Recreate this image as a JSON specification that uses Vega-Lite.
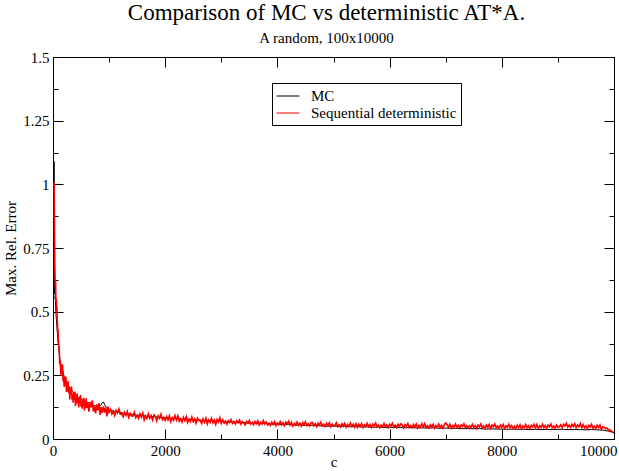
{
  "$schema": "https://vega.github.io/schema/vega-lite/v6.json",
  "width": 561,
  "height": 382,
  "autosize": "none",
  "padding": {"left": 53, "top": 57, "right": 5, "bottom": 32},
  "background": "white",
  "title": {
    "text": "Comparison of MC vs deterministic AT*A.",
    "subtitle": "A random, 100x10000",
    "font": "Liberation Serif",
    "subtitleFont": "Liberation Serif",
    "fontSize": 23,
    "subtitleFontSize": 15,
    "fontWeight": "normal",
    "color": "black",
    "subtitleColor": "black",
    "anchor": "middle",
    "dx": -7,
    "offset": 4,
    "subtitlePadding": 6
  },
  "datasets": {
    "mc": [
      {"c":15,"e":0.8},{"c":18,"e":1.09},{"c":21,"e":1.0},{"c":24,"e":0.85},{"c":27,"e":0.6},{"c":30,"e":0.57},{"c":34,"e":0.6},{"c":38,"e":0.55},{"c":42,"e":0.56},{"c":50,"e":0.5},{"c":60,"e":0.47},{"c":70,"e":0.44},{"c":80,"e":0.41},{"c":90,"e":0.38},{"c":100,"e":0.37},{"c":110,"e":0.34},{"c":120,"e":0.32},{"c":130,"e":0.3},{"c":150,"e":0.28},{"c":170,"e":0.27},{"c":200,"e":0.245},{"c":230,"e":0.23},{"c":260,"e":0.215},{"c":300,"e":0.2},{"c":330,"e":0.19},{"c":360,"e":0.185},{"c":400,"e":0.175},{"c":450,"e":0.165},{"c":500,"e":0.158},{"c":550,"e":0.15},{"c":600,"e":0.145},{"c":650,"e":0.14},{"c":700,"e":0.135},{"c":750,"e":0.13},{"c":800,"e":0.127},{"c":850,"e":0.132},{"c":880,"e":0.143},{"c":900,"e":0.145},{"c":920,"e":0.135},{"c":950,"e":0.125},{"c":1000,"e":0.116},
      {"c":1100,"e":0.108},{"c":1200,"e":0.104},{"c":1300,"e":0.099},{"c":1400,"e":0.097},{"c":1500,"e":0.093},{"c":1600,"e":0.092},{"c":1700,"e":0.088},{"c":1800,"e":0.088},{"c":1900,"e":0.084},{"c":2000,"e":0.084},{"c":2100,"e":0.081},{"c":2200,"e":0.081},{"c":2300,"e":0.078},{"c":2400,"e":0.078},{"c":2500,"e":0.075},{"c":2600,"e":0.075},{"c":2700,"e":0.072},{"c":2800,"e":0.073},{"c":2900,"e":0.07},{"c":3000,"e":0.07},
      {"c":3100,"e":0.067},{"c":3200,"e":0.067},{"c":3300,"e":0.065},{"c":3400,"e":0.065},{"c":3500,"e":0.062},{"c":3600,"e":0.063},{"c":3700,"e":0.06},{"c":3800,"e":0.061},{"c":3900,"e":0.058},{"c":4000,"e":0.059},{"c":4100,"e":0.056},{"c":4200,"e":0.057},{"c":4300,"e":0.055},{"c":4400,"e":0.055},{"c":4500,"e":0.053},{"c":4600,"e":0.054},{"c":4700,"e":0.052},{"c":4800,"e":0.052},{"c":4900,"e":0.05},{"c":5000,"e":0.051},
      {"c":5100,"e":0.049},{"c":5200,"e":0.05},{"c":5300,"e":0.048},{"c":5400,"e":0.049},{"c":5500,"e":0.047},{"c":5600,"e":0.048},{"c":5700,"e":0.046},{"c":5800,"e":0.047},{"c":5900,"e":0.045},{"c":6000,"e":0.046},{"c":6100,"e":0.045},{"c":6200,"e":0.045},{"c":6300,"e":0.044},{"c":6400,"e":0.045},{"c":6500,"e":0.043},{"c":6600,"e":0.044},{"c":6700,"e":0.043},{"c":6800,"e":0.044},{"c":6900,"e":0.042},{"c":7000,"e":0.043},
      {"c":7100,"e":0.042},{"c":7200,"e":0.042},{"c":7300,"e":0.041},{"c":7400,"e":0.041},{"c":7500,"e":0.04},{"c":7600,"e":0.041},{"c":7700,"e":0.039},{"c":7800,"e":0.04},{"c":7900,"e":0.039},{"c":8000,"e":0.039},{"c":8100,"e":0.038},{"c":8200,"e":0.039},{"c":8300,"e":0.038},{"c":8400,"e":0.038},{"c":8500,"e":0.037},{"c":8600,"e":0.038},{"c":8700,"e":0.037},{"c":8800,"e":0.038},{"c":8900,"e":0.037},{"c":9000,"e":0.038},
      {"c":9100,"e":0.038},{"c":9200,"e":0.037},{"c":9300,"e":0.037},{"c":9400,"e":0.037},{"c":9500,"e":0.036},{"c":9600,"e":0.037},{"c":9700,"e":0.036},{"c":9800,"e":0.035},{"c":9900,"e":0.031},{"c":10000,"e":0.025}
    ],
    "det": [
      {"c":20,"e":1.01},{"c":24,"e":0.9},{"c":28,"e":0.78},{"c":32,"e":0.68},{"c":36,"e":0.64},{"c":40,"e":0.6},{"c":45,"e":0.62},{"c":50,"e":0.56},{"c":55,"e":0.54},{"c":60,"e":0.55},{"c":65,"e":0.5},{"c":70,"e":0.52},{"c":75,"e":0.47},{"c":80,"e":0.45},{"c":85,"e":0.42},{"c":90,"e":0.43},{"c":95,"e":0.39},{"c":100,"e":0.38},{"c":105,"e":0.36},
      {"c":110,"e":0.357},{"c":120,"e":0.293},{"c":130,"e":0.308},{"c":140,"e":0.249},{"c":150,"e":0.293},{"c":160,"e":0.257},{"c":170,"e":0.292},{"c":180,"e":0.226},{"c":190,"e":0.246},{"c":200,"e":0.204},
      {"c":210,"e":0.245},{"c":220,"e":0.213},{"c":230,"e":0.244},{"c":240,"e":0.185},{"c":250,"e":0.216},{"c":260,"e":0.187},{"c":270,"e":0.227},{"c":280,"e":0.18},{"c":290,"e":0.199},{"c":300,"e":0.155},
      {"c":310,"e":0.2},{"c":320,"e":0.174},{"c":330,"e":0.207},{"c":340,"e":0.154},{"c":350,"e":0.175},{"c":360,"e":0.143},{"c":370,"e":0.182},{"c":380,"e":0.153},{"c":390,"e":0.186},{"c":400,"e":0.13},
      {"c":410,"e":0.163},{"c":420,"e":0.141},{"c":430,"e":0.179},{"c":440,"e":0.14},{"c":450,"e":0.16},{"c":460,"e":0.124},{"c":470,"e":0.165},{"c":480,"e":0.143},{"c":490,"e":0.173},{"c":500,"e":0.127},
      {"c":510,"e":0.147},{"c":520,"e":0.119},{"c":530,"e":0.156},{"c":540,"e":0.13},{"c":550,"e":0.162},{"c":560,"e":0.112},{"c":570,"e":0.143},{"c":580,"e":0.121},{"c":590,"e":0.16},{"c":600,"e":0.121},
      {"c":620,"e":0.142},{"c":640,"e":0.107},{"c":660,"e":0.146},{"c":680,"e":0.124},{"c":700,"e":0.152},{"c":720,"e":0.108},{"c":740,"e":0.128},{"c":760,"e":0.101},{"c":780,"e":0.136},{"c":800,"e":0.112},{"c":820,"e":0.141},{"c":840,"e":0.095},{"c":860,"e":0.125},{"c":880,"e":0.104},{"c":900,"e":0.128},{"c":920,"e":0.104},{"c":940,"e":0.123},{"c":960,"e":0.089},{"c":980,"e":0.127},{"c":1000,"e":0.105},
      {"c":1025,"e":0.116},{"c":1050,"e":0.098},{"c":1075,"e":0.109},{"c":1100,"e":0.092},{"c":1125,"e":0.112},{"c":1150,"e":0.102},{"c":1175,"e":0.118},{"c":1200,"e":0.097},
      {"c":1225,"e":0.099},{"c":1250,"e":0.087},{"c":1275,"e":0.105},{"c":1300,"e":0.092},{"c":1325,"e":0.108},{"c":1350,"e":0.085},{"c":1375,"e":0.101},{"c":1400,"e":0.091},
      {"c":1425,"e":0.089},{"c":1450,"e":0.105},{"c":1475,"e":0.084},{"c":1500,"e":0.093},{"c":1525,"e":0.081},{"c":1550,"e":0.099},{"c":1575,"e":0.086},{"c":1600,"e":0.102},
      {"c":1625,"e":0.075},{"c":1650,"e":0.091},{"c":1675,"e":0.081},{"c":1700,"e":0.099},{"c":1725,"e":0.081},{"c":1750,"e":0.092},{"c":1775,"e":0.075},{"c":1800,"e":0.095},
      {"c":1825,"e":0.088},{"c":1850,"e":0.071},{"c":1875,"e":0.091},{"c":1900,"e":0.081},{"c":1925,"e":0.097},{"c":1950,"e":0.076},{"c":1975,"e":0.085},{"c":2000,"e":0.073},
      {"c":2025,"e":0.088},{"c":2050,"e":0.075},{"c":2075,"e":0.091},{"c":2100,"e":0.068},{"c":2125,"e":0.084},{"c":2150,"e":0.074},{"c":2175,"e":0.092},{"c":2200,"e":0.074},
      {"c":2225,"e":0.091},{"c":2250,"e":0.07},{"c":2275,"e":0.079},{"c":2300,"e":0.067},{"c":2325,"e":0.085},{"c":2350,"e":0.072},{"c":2375,"e":0.088},{"c":2400,"e":0.065},
      {"c":2425,"e":0.078},{"c":2450,"e":0.068},{"c":2475,"e":0.086},{"c":2500,"e":0.068},{"c":2525,"e":0.079},{"c":2550,"e":0.062},{"c":2575,"e":0.082},{"c":2600,"e":0.072},
      {"c":2625,"e":0.073},{"c":2650,"e":0.061},{"c":2675,"e":0.079},{"c":2700,"e":0.066},{"c":2725,"e":0.082},{"c":2750,"e":0.059},{"c":2775,"e":0.075},{"c":2800,"e":0.065},
      {"c":2825,"e":0.081},{"c":2850,"e":0.063},{"c":2875,"e":0.074},{"c":2900,"e":0.057},{"c":2925,"e":0.077},{"c":2950,"e":0.067},{"c":2975,"e":0.083},{"c":3000,"e":0.062},
      {"c":3025,"e":0.075},{"c":3050,"e":0.062},{"c":3075,"e":0.07},{"c":3100,"e":0.058},{"c":3125,"e":0.072},{"c":3150,"e":0.065},{"c":3175,"e":0.076},{"c":3200,"e":0.061},{"c":3225,"e":0.068},{"c":3250,"e":0.059},{"c":3275,"e":0.072},{"c":3300,"e":0.063},{"c":3325,"e":0.074},{"c":3350,"e":0.058},{"c":3375,"e":0.069},{"c":3400,"e":0.062},
      {"c":3425,"e":0.055},{"c":3450,"e":0.069},{"c":3475,"e":0.062},{"c":3500,"e":0.073},{"c":3525,"e":0.058},{"c":3550,"e":0.065},{"c":3575,"e":0.056},{"c":3600,"e":0.069},{"c":3625,"e":0.06},{"c":3650,"e":0.071},{"c":3675,"e":0.055},{"c":3700,"e":0.066},{"c":3725,"e":0.059},{"c":3750,"e":0.072},{"c":3775,"e":0.059},{"c":3800,"e":0.067},
      {"c":3825,"e":0.055},{"c":3850,"e":0.062},{"c":3875,"e":0.053},{"c":3900,"e":0.066},{"c":3925,"e":0.057},{"c":3950,"e":0.068},{"c":3975,"e":0.052},{"c":4000,"e":0.063},{"c":4025,"e":0.056},{"c":4050,"e":0.069},{"c":4075,"e":0.056},{"c":4100,"e":0.064},{"c":4125,"e":0.052},{"c":4150,"e":0.066},{"c":4175,"e":0.059},{"c":4200,"e":0.07},
      {"c":4225,"e":0.055},{"c":4250,"e":0.066},{"c":4275,"e":0.05},{"c":4300,"e":0.061},{"c":4325,"e":0.054},{"c":4350,"e":0.067},{"c":4375,"e":0.054},{"c":4400,"e":0.062},{"c":4425,"e":0.05},{"c":4450,"e":0.064},{"c":4475,"e":0.057},{"c":4500,"e":0.068},{"c":4525,"e":0.053},{"c":4550,"e":0.06},{"c":4575,"e":0.051},{"c":4600,"e":0.064},
      {"c":4625,"e":0.065},{"c":4650,"e":0.052},{"c":4675,"e":0.06},{"c":4700,"e":0.048},{"c":4725,"e":0.062},{"c":4750,"e":0.055},{"c":4775,"e":0.066},{"c":4800,"e":0.051},{"c":4825,"e":0.058},{"c":4850,"e":0.049},{"c":4875,"e":0.062},{"c":4900,"e":0.053},{"c":4925,"e":0.064},{"c":4950,"e":0.048},{"c":4975,"e":0.059},{"c":5000,"e":0.052},
      {"c":5025,"e":0.053},{"c":5050,"e":0.064},{"c":5075,"e":0.049},{"c":5100,"e":0.056},{"c":5125,"e":0.047},{"c":5150,"e":0.06},{"c":5175,"e":0.051},{"c":5200,"e":0.062},{"c":5225,"e":0.046},{"c":5250,"e":0.057},{"c":5275,"e":0.05},{"c":5300,"e":0.063},{"c":5325,"e":0.05},{"c":5350,"e":0.058},{"c":5375,"e":0.046},{"c":5400,"e":0.06},
      {"c":5425,"e":0.046},{"c":5450,"e":0.059},{"c":5475,"e":0.05},{"c":5500,"e":0.061},{"c":5525,"e":0.045},{"c":5550,"e":0.056},{"c":5575,"e":0.049},{"c":5600,"e":0.062},{"c":5625,"e":0.049},{"c":5650,"e":0.057},{"c":5675,"e":0.045},{"c":5700,"e":0.059},{"c":5725,"e":0.052},{"c":5750,"e":0.063},{"c":5775,"e":0.048},{"c":5800,"e":0.055},
      {"c":5825,"e":0.044},{"c":5850,"e":0.055},{"c":5875,"e":0.048},{"c":5900,"e":0.061},{"c":5925,"e":0.048},{"c":5950,"e":0.056},{"c":5975,"e":0.044},{"c":6000,"e":0.058},{"c":6025,"e":0.051},{"c":6050,"e":0.062},{"c":6075,"e":0.047},{"c":6100,"e":0.054},{"c":6125,"e":0.045},{"c":6150,"e":0.058},{"c":6175,"e":0.049},{"c":6200,"e":0.06},
      {"c":6225,"e":0.055},{"c":6250,"e":0.043},{"c":6275,"e":0.057},{"c":6300,"e":0.05},{"c":6325,"e":0.061},{"c":6350,"e":0.046},{"c":6375,"e":0.053},{"c":6400,"e":0.044},{"c":6425,"e":0.057},{"c":6450,"e":0.048},{"c":6475,"e":0.059},{"c":6500,"e":0.043},{"c":6525,"e":0.054},{"c":6550,"e":0.047},{"c":6575,"e":0.06},{"c":6600,"e":0.047},
      {"c":6625,"e":0.06},{"c":6650,"e":0.045},{"c":6675,"e":0.052},{"c":6700,"e":0.043},{"c":6725,"e":0.056},{"c":6750,"e":0.047},{"c":6775,"e":0.058},{"c":6800,"e":0.042},{"c":6825,"e":0.053},{"c":6850,"e":0.046},{"c":6875,"e":0.059},{"c":6900,"e":0.046},{"c":6925,"e":0.054},{"c":6950,"e":0.042},{"c":6975,"e":0.056},{"c":7000,"e":0.063},
      {"c":7025,"e":0.056},{"c":7050,"e":0.047},{"c":7075,"e":0.058},{"c":7100,"e":0.042},{"c":7125,"e":0.053},{"c":7150,"e":0.046},{"c":7175,"e":0.059},{"c":7200,"e":0.046},{"c":7225,"e":0.054},{"c":7250,"e":0.042},{"c":7275,"e":0.056},{"c":7300,"e":0.049},{"c":7325,"e":0.06},{"c":7350,"e":0.045},{"c":7375,"e":0.052},{"c":7400,"e":0.043},
      {"c":7425,"e":0.052},{"c":7450,"e":0.045},{"c":7475,"e":0.058},{"c":7500,"e":0.045},{"c":7525,"e":0.053},{"c":7550,"e":0.041},{"c":7575,"e":0.055},{"c":7600,"e":0.048},{"c":7625,"e":0.059},{"c":7650,"e":0.044},{"c":7675,"e":0.051},{"c":7700,"e":0.042},{"c":7725,"e":0.055},{"c":7750,"e":0.046},{"c":7775,"e":0.057},{"c":7800,"e":0.041},
      {"c":7825,"e":0.055},{"c":7850,"e":0.048},{"c":7875,"e":0.059},{"c":7900,"e":0.044},{"c":7925,"e":0.051},{"c":7950,"e":0.042},{"c":7975,"e":0.055},{"c":8000,"e":0.046},{"c":8025,"e":0.057},{"c":8050,"e":0.041},{"c":8075,"e":0.052},{"c":8100,"e":0.045},{"c":8125,"e":0.058},{"c":8150,"e":0.045},{"c":8175,"e":0.053},{"c":8200,"e":0.041},
      {"c":8225,"e":0.05},{"c":8250,"e":0.041},{"c":8275,"e":0.054},{"c":8300,"e":0.045},{"c":8325,"e":0.056},{"c":8350,"e":0.04},{"c":8375,"e":0.051},{"c":8400,"e":0.044},{"c":8425,"e":0.057},{"c":8450,"e":0.044},{"c":8475,"e":0.052},{"c":8500,"e":0.04},{"c":8525,"e":0.054},{"c":8550,"e":0.047},{"c":8575,"e":0.058},{"c":8600,"e":0.043},
      {"c":8625,"e":0.057},{"c":8650,"e":0.041},{"c":8675,"e":0.052},{"c":8700,"e":0.045},{"c":8725,"e":0.058},{"c":8750,"e":0.045},{"c":8775,"e":0.053},{"c":8800,"e":0.041},{"c":8825,"e":0.055},{"c":8850,"e":0.048},{"c":8875,"e":0.059},{"c":8900,"e":0.044},{"c":8925,"e":0.051},{"c":8950,"e":0.042},{"c":8975,"e":0.055},{"c":9000,"e":0.046},
      {"c":9025,"e":0.048},{"c":9050,"e":0.056},{"c":9075,"e":0.044},{"c":9100,"e":0.058},{"c":9125,"e":0.051},{"c":9150,"e":0.062},{"c":9175,"e":0.047},{"c":9200,"e":0.054},{"c":9225,"e":0.045},{"c":9250,"e":0.058},{"c":9275,"e":0.049},{"c":9300,"e":0.06},{"c":9325,"e":0.044},{"c":9350,"e":0.055},{"c":9375,"e":0.048},{"c":9400,"e":0.061},
      {"c":9425,"e":0.044},{"c":9450,"e":0.057},{"c":9475,"e":0.044},{"c":9500,"e":0.052},{"c":9525,"e":0.04},{"c":9550,"e":0.054},{"c":9575,"e":0.047},{"c":9600,"e":0.058},{"c":9625,"e":0.043},{"c":9650,"e":0.05},{"c":9675,"e":0.041},{"c":9700,"e":0.054},{"c":9725,"e":0.045},{"c":9750,"e":0.055},{"c":9775,"e":0.038},{"c":9800,"e":0.048},
      {"c":9825,"e":0.046},{"c":9850,"e":0.04},{"c":9875,"e":0.043},{"c":9900,"e":0.036},{"c":9925,"e":0.036},{"c":9950,"e":0.031},{"c":9975,"e":0.029},{"c":10000,"e":0.023}
    ]
  },
  "layer": [
    {
      "data": {"name": "mc"},
      "mark": {"type": "line", "strokeWidth": 1, "clip": true},
      "encoding": {
        "x": {
          "field": "c", "type": "quantitative",
          "scale": {"domain": [0, 10000], "nice": false, "zero": false},
          "axis": {
            "orient": "bottom",
            "values": [0,1000,2000,3000,4000,5000,6000,7000,8000,9000,10000],
            "format": "d",
            "labelExpr": "datum.value % 2000 === 0 ? datum.label : ''",
            "tickSize": {"condition": {"test": "datum.value % 2000 === 0", "value": -10}, "value": -5},
            "labelAlign": {"condition": {"test": "datum.value === 10000", "value": "right"}, "value": "center"},
            "labelOffset": {"condition": {"test": "datum.value === 10000", "value": 3}, "value": 0},
            "labelPadding": 14,
            "labelFlush": false,
            "labelOverlap": false,
            "title": "c",
            "titlePadding": -9
          }
        },
        "y": {
          "field": "e", "type": "quantitative",
          "scale": {"domain": [0, 1.5], "nice": false, "zero": false},
          "axis": {
            "orient": "left",
            "values": [0,0.125,0.25,0.375,0.5,0.625,0.75,0.875,1,1.125,1.25,1.375,1.5],
            "format": ".2~f",
            "labelExpr": "datum.value % 0.25 === 0 ? datum.label : ''",
            "tickSize": {"condition": {"test": "datum.value % 0.25 === 0", "value": -10}, "value": -5},
            "labelPadding": 14,
            "labelFlush": false,
            "labelOverlap": false,
            "title": "Max. Rel. Error",
            "titlePadding": 4
          }
        },
        "color": {
          "datum": "MC", "type": "nominal",
          "scale": {"domain": ["MC", "Sequential deterministic"], "range": ["#000000", "#ff0000"]},
          "legend": {
            "orient": "none",
            "legendX": 219,
            "legendY": 26,
            "title": null,
            "symbolType": "M-1,0H1.7",
            "symbolSize": 289,
            "symbolStrokeWidth": 1,
            "labelFontSize": 15,
            "labelColor": "black",
            "labelLimit": 400,
            "strokeColor": "black",
            "fillColor": "white",
            "padding": 4,
            "labelOffset": 17,
            "rowPadding": 0
          }
        }
      }
    },
    {
      "data": {"name": "det"},
      "mark": {"type": "line", "strokeWidth": 1.6, "clip": true},
      "encoding": {
        "x": {"field": "c", "type": "quantitative", "axis": null},
        "y": {"field": "e", "type": "quantitative", "axis": null},
        "color": {"datum": "Sequential deterministic", "type": "nominal"}
      }
    },
    {
      "data": {"name": "mc"},
      "mark": {"type": "line", "opacity": 0},
      "encoding": {
        "x": {
          "field": "c", "type": "quantitative",
          "axis": {
            "orient": "top",
            "values": [0,1000,2000,3000,4000,5000,6000,7000,8000,9000,10000],
            "labels": false,
            "tickSize": {"condition": {"test": "datum.value % 2000 === 0", "value": -10}, "value": -5},
            "title": null
          }
        },
        "y": {
          "field": "e", "type": "quantitative",
          "axis": {
            "orient": "right",
            "values": [0,0.125,0.25,0.375,0.5,0.625,0.75,0.875,1,1.125,1.25,1.375,1.5],
            "labels": false,
            "tickSize": {"condition": {"test": "datum.value % 0.25 === 0", "value": -10}, "value": -5},
            "title": null
          }
        }
      }
    }
  ],
  "resolve": {"axis": {"x": "independent", "y": "independent"}},
  "config": {
    "font": "Liberation Serif",
    "view": {"stroke": null},
    "axis": {
      "domainColor": "black",
      "tickColor": "black",
      "labelColor": "black",
      "titleColor": "black",
      "grid": false,
      "labelFontSize": 15,
      "titleFontSize": 15,
      "titleFontWeight": "normal",
      "tickWidth": 1,
      "domainWidth": 1
    }
  }
}
